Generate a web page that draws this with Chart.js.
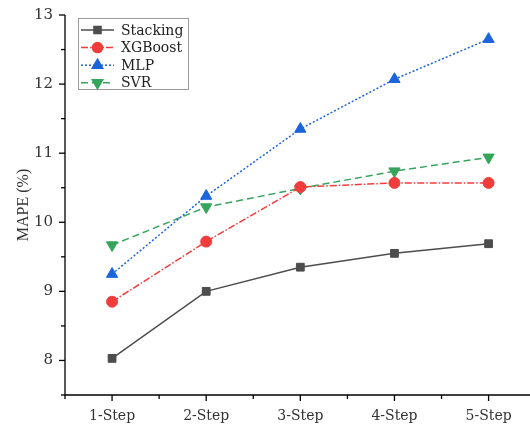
<!DOCTYPE html>
<html>
<head>
<meta charset="utf-8">
<script src="https://cdn.jsdelivr.net/npm/chart.js@4"></script>
<style>
  html, body { margin: 0; padding: 0; background: #fff; overflow: hidden; }
  #wrap { width: 530px; height: 428px; }
</style>
</head>
<body>
<div id="wrap"><canvas id="mapeChart" width="530" height="428"></canvas></div>
<script>
const steps = ['1-Step', '2-Step', '3-Step', '4-Step', '5-Step'];
const stacking = [8.03, 9.00, 9.35, 9.55, 9.69];
const xgboost = [8.85, 9.72, 10.51, 10.57, 10.57];
const mlp = [9.25, 10.38, 11.35, 12.07, 12.65];
const svr = [9.67, 10.22, 10.49, 10.74, 10.94];
const yTicks = [8, 9, 10, 11, 12, 13];

const serif = '"DejaVu Serif", "Liberation Serif", serif';

function pts(vals) {
  return vals.map((v, i) => ({ x: i, y: v }));
}

const seriesDefs = [
  { label: 'Stacking', data: stacking, color: '#4d4d4d', dash: [], style: 'rect', radius: 5.5, rotation: 0 },
  { label: 'XGBoost', data: xgboost, color: '#f23c3c', dash: [7, 2, 1.5, 2], style: 'circle', radius: 5.5, rotation: 0 },
  { label: 'MLP', data: mlp, color: '#1b64dc', dash: [2, 2], style: 'triangle', radius: 6.5, rotation: 0 },
  { label: 'SVR', data: svr, color: '#35a55c', dash: [7, 4], style: 'triangle', radius: 6.5, rotation: 180 },
];

// axes with minor ticks, plus the boxed legend
const axisPlugin = {
  id: 'axisPlugin',
  afterDraw(chart) {
    const ctx = chart.ctx;
    const xs = chart.scales.x, ys = chart.scales.y;
    const a = chart.chartArea;
    ctx.save();
    ctx.strokeStyle = '#000';
    ctx.lineWidth = 1.3;
    ctx.beginPath();
    ctx.moveTo(a.left, a.top);
    ctx.lineTo(a.left, a.bottom);
    ctx.lineTo(chart.width, a.bottom);
    ctx.stroke();
    for (let v = 7.5; v <= 13.001; v += 0.5) {
      const y = ys.getPixelForValue(v);
      const major = Math.abs(v - Math.round(v)) < 0.01;
      ctx.beginPath();
      ctx.moveTo(a.left, y);
      ctx.lineTo(a.left - (major ? 6 : 4), y);
      ctx.stroke();
    }
    for (let v = -0.5; v <= 4.0001; v += 0.5) {
      const x = xs.getPixelForValue(v);
      const major = Math.abs(v - Math.round(v)) < 0.01;
      ctx.beginPath();
      ctx.moveTo(x, a.bottom);
      ctx.lineTo(x, a.bottom + (major ? 6 : 4));
      ctx.stroke();
    }
    // legend
    const bx = 78, by = 18, bw = 110, bh = 71;
    ctx.strokeStyle = '#9a9a9a';
    ctx.lineWidth = 1;
    ctx.strokeRect(bx + 0.5, by + 0.5, bw, bh);
    ctx.font = '14px ' + serif;
    ctx.textBaseline = 'middle';
    seriesDefs.forEach((s, i) => {
      const y = 30 + i * 17.6;
      ctx.strokeStyle = s.color;
      ctx.lineWidth = 1.5;
      ctx.setLineDash(s.dash);
      ctx.beginPath();
      ctx.moveTo(81, y);
      ctx.lineTo(114, y);
      ctx.stroke();
      ctx.setLineDash([]);
      ctx.fillStyle = s.color;
      ctx.strokeStyle = s.color;
      Chart.helpers.drawPoint(ctx, {
        pointStyle: s.style, radius: s.radius - 0.5, rotation: s.rotation, borderWidth: 1
      }, 97.5, y);
      ctx.fillStyle = '#222';
      ctx.fillText(s.label, 121, y + 1);
    });
    ctx.restore();
  }
};

const datasets = seriesDefs.map(s => ({
  label: s.label,
  data: pts(s.data),
  borderColor: s.color,
  backgroundColor: s.color,
  borderWidth: 1.5,
  borderDash: s.dash,
  pointStyle: s.style,
  pointRadius: s.radius,
  pointRotation: s.rotation,
  pointBorderColor: s.color,
  pointBackgroundColor: s.color,
  pointBorderWidth: 1,
  tension: 0,
}));

new Chart(document.getElementById('mapeChart'), {
  type: 'line',
  data: { datasets },
  options: {
    responsive: false,
    animation: false,
    layout: { autoPadding: false, padding: { top: 15, right: 0, left: 0, bottom: 0 } },
    plugins: { legend: { display: false }, tooltip: { enabled: false } },
    scales: {
      x: {
        type: 'linear',
        min: -0.5,
        max: 4.44,   // axis runs past the right edge of the picture
        border: { display: false },
        grid: { display: false, drawTicks: false },
        afterBuildTicks: sc => { sc.ticks = steps.map((_, i) => ({ value: i })); },
        ticks: {
          autoSkip: false,
          maxRotation: 0,
          padding: 13,
          color: '#333',
          font: { family: serif, size: 14 },
          callback: v => steps[v] ?? '',
        },
        afterFit: sc => { sc.height = 33; sc.paddingLeft = 0; sc.paddingRight = 0; },
      },
      y: {
        min: 7.5,
        max: 13,
        border: { display: false },
        grid: { display: false, drawTicks: false },
        afterBuildTicks: sc => { sc.ticks = yTicks.map(v => ({ value: v })); },
        ticks: {
          padding: 12,
          color: '#333',
          font: { family: serif, size: 15 },
        },
        title: {
          display: true,
          text: 'MAPE (%)',
          color: '#333',
          font: { family: '"Liberation Serif", serif', size: 16 },
          padding: { top: 14, bottom: 0 },
        },
        afterFit: sc => { sc.width = 65; sc.paddingTop = 0; sc.paddingBottom = 0; },
      },
    },
  },
  plugins: [axisPlugin],
});
</script>
</body>
</html>
